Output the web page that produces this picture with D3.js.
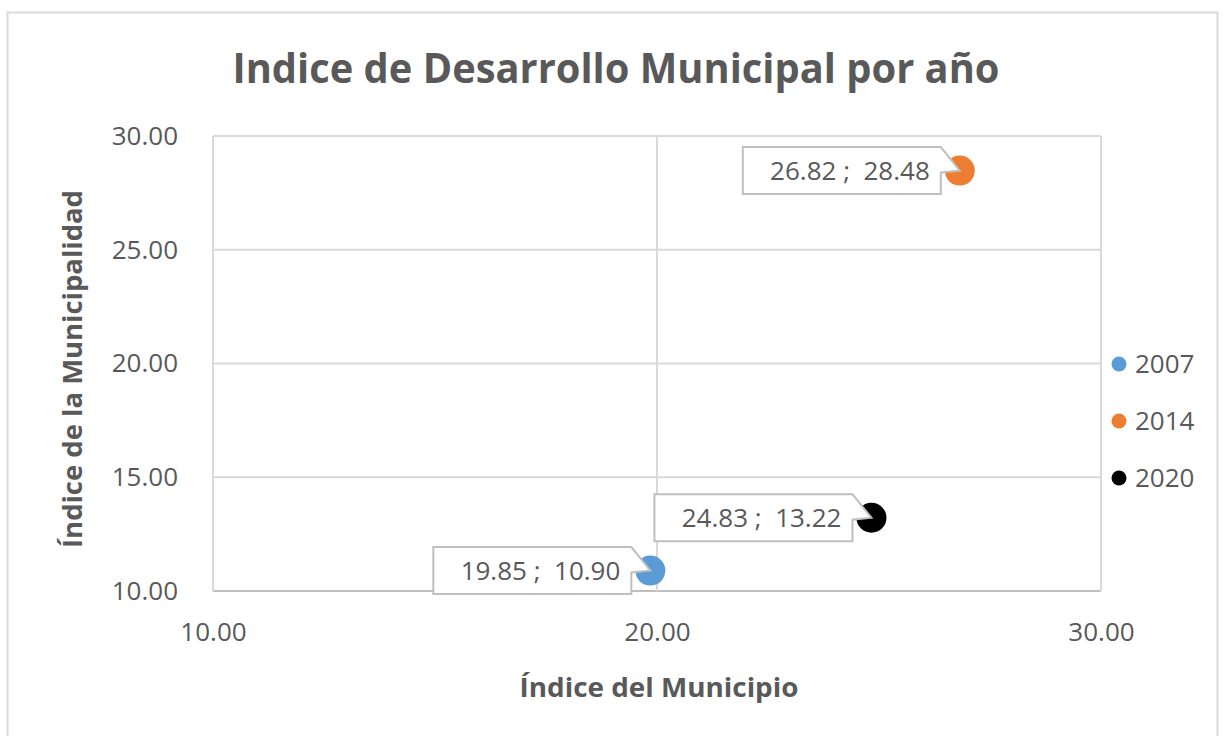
<!DOCTYPE html>
<html>
<head>
  <meta charset="utf-8">
  <title>Indice de Desarrollo Municipal por año</title>
  <style>
    body { margin: 0; background: #fff; }
    text { font-family: "Open Sans", sans-serif; fill: #595959; }
    .tick text { font-size: 26px; }
    .title { font-size: 42px; font-weight: bold; text-anchor: middle; }
    .axis-title { font-size: 27px; font-weight: bold; text-anchor: middle; }
    .label { font-size: 26px; text-anchor: end; }
    .legend text { font-size: 26px; }
  </style>
</head>
<body>
  <svg id="chart"></svg>

  <script src="https://d3js.org/d3.v7.min.js"></script>
  <script>
    // Data
    const years = ["2007", "2014", "2020"];
    const municipio = [19.85, 26.82, 24.83];      // x
    const municipalidad = [10.90, 28.48, 13.22];  // y
    const colors = ["#5b9bd5", "#ed7d31", "#000000"];
    const xTicks = [10, 20, 30];
    const yTicks = [10, 15, 20, 25, 30];

    const width = 1223;
    const height = 736;
    const plot = { left: 213, right: 1101, top: 136, bottom: 591 };

    const svg = d3.select("#chart")
      .attr("width", width)
      .attr("height", height);

    // outer chart border
    svg.append("rect")
      .attr("x", 7.5).attr("y", 12.5)
      .attr("width", 1210).attr("height", 740)
      .attr("fill", "white")
      .attr("stroke", "#d9d9d9")
      .attr("stroke-width", 2);

    const x = d3.scaleLinear().domain([10, 30]).range([plot.left, plot.right]);
    const y = d3.scaleLinear().domain([10, 30]).range([plot.bottom, plot.top]);
    const fmt = d3.format(".2f");

    // gridlines
    svg.append("g").selectAll("line")
      .data(yTicks)
      .enter().append("line")
      .attr("x1", plot.left).attr("x2", plot.right)
      .attr("y1", d => y(d)).attr("y2", d => y(d))
      .attr("stroke", d => d === 10 ? "#bfbfbf" : "#d9d9d9")
      .attr("stroke-width", 2);

    svg.append("g").selectAll("line")
      .data(xTicks)
      .enter().append("line")
      .attr("x1", d => x(d)).attr("x2", d => x(d))
      .attr("y1", plot.top).attr("y2", plot.bottom)
      .attr("stroke", "#d9d9d9")
      .attr("stroke-width", 2);

    // axes
    const xAxis = svg.append("g")
      .attr("transform", `translate(0, ${plot.bottom})`)
      .call(d3.axisBottom(x).tickValues(xTicks).tickFormat(fmt).tickSize(0).tickPadding(32));
    xAxis.select(".domain").remove();

    const yAxis = svg.append("g")
      .attr("transform", `translate(${plot.left}, 0)`)
      .call(d3.axisLeft(y).tickValues(yTicks).tickFormat(fmt).tickSize(0).tickPadding(35));
    yAxis.select(".domain").remove();

    svg.selectAll(".tick text").attr("fill", "#595959").style("font-family", "'Open Sans', sans-serif");

    // titles
    svg.append("text")
      .attr("class", "title")
      .attr("x", 616).attr("y", 83)
      .attr("textLength", 767)
      .attr("lengthAdjust", "spacingAndGlyphs")
      .text("Indice de  Desarrollo Municipal por año");

    svg.append("text")
      .attr("class", "axis-title")
      .attr("x", 659).attr("y", 697)
      .attr("textLength", 279)
      .attr("lengthAdjust", "spacingAndGlyphs")
      .text("Índice del Municipio");

    svg.append("text")
      .attr("class", "axis-title")
      .attr("transform", "translate(82, 369) rotate(-90)")
      .attr("textLength", 358)
      .attr("lengthAdjust", "spacingAndGlyphs")
      .text("Índice de la Municipalidad");

    // points
    const pts = years.map((yr, i) => ({
      year: yr, x: municipio[i], y: municipalidad[i], color: colors[i]
    }));

    svg.append("g").selectAll("circle")
      .data(pts)
      .enter().append("circle")
      .attr("cx", d => x(d.x))
      .attr("cy", d => y(d.y))
      .attr("r", 15)
      .attr("fill", d => d.color);

    // callout labels
    const boxW = 198, boxH = 47;
    const callouts = svg.append("g").selectAll("g")
      .data(pts)
      .enter().append("g");

    callouts.append("path")
      .attr("fill", "white")
      .attr("stroke", "#bfbfbf")
      .attr("stroke-width", 2)
      .attr("d", d => {
        const cx = x(d.x), cy = y(d.y);
        const R = cx - 19, L = R - boxW, T = cy - boxH / 2, B = cy + boxH / 2;
        return `M${L},${T}H${R}L${cx},${cy}L${R},${cy + 2}V${B}H${L}Z`;
      });

    callouts.append("text")
      .attr("class", "label")
      .attr("x", d => x(d.x) - 30)
      .attr("y", d => y(d.y) + 9)
      .text(d => `${fmt(d.x)} ;\u00a0 ${fmt(d.y)}`);

    // legend
    const legend = svg.append("g")
      .attr("class", "legend")
      .selectAll("g")
      .data(pts)
      .enter().append("g")
      .attr("transform", (d, i) => `translate(1119, ${364 + i * 57})`);

    legend.append("circle")
      .attr("r", 7.5)
      .attr("fill", d => d.color);

    legend.append("text")
      .attr("x", 16)
      .attr("y", 9)
      .text(d => d.year);
  </script>
</body>
</html>
